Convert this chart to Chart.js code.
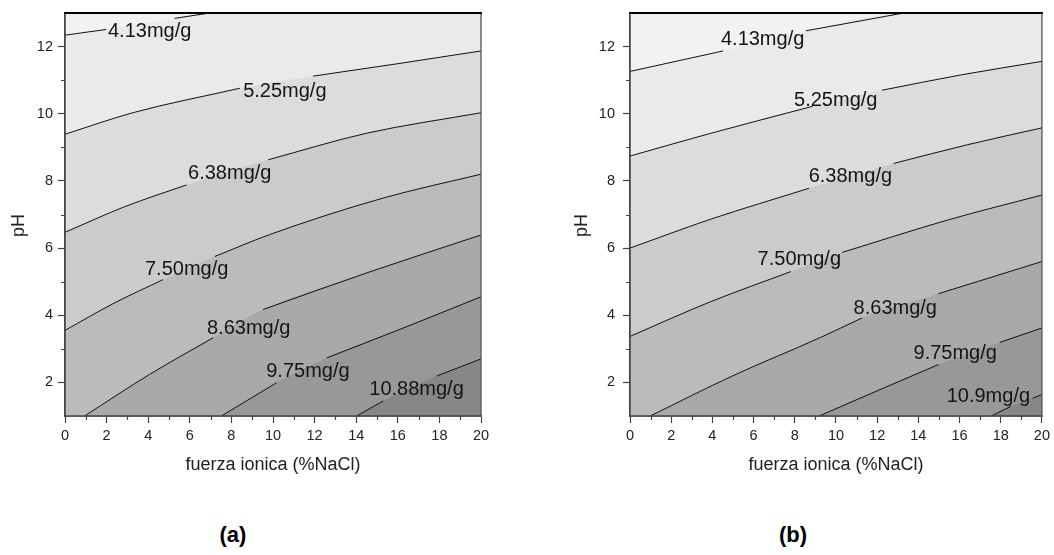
<!DOCTYPE html>
<html>
<head>
<meta charset="utf-8">
<title>Capacidad de adsorción vs pH y fuerza iónica</title>
<script src="https://cdn.jsdelivr.net/npm/chart.js@4.4.1/dist/chart.umd.min.js"></script>
<style>
  html, body { margin: 0; padding: 0; background: #fff; width: 1054px; height: 555px; overflow: hidden;
               font-family: "Liberation Sans", Arial, Helvetica, sans-serif; }
  .panel { position: absolute; top: 0; height: 490px; }
  #wrapA { left: 0; width: 510px; }
  #wrapB { left: 560px; width: 494px; }
  .cap { position: absolute; top: 522px; width: 60px; text-align: center; font-weight: bold; font-size: 22px; color: #000; }
</style>
</head>
<body>
<div class="panel" id="wrapA"><canvas id="chartA"></canvas></div>
<div class="panel" id="wrapB"><canvas id="chartB"></canvas></div>
<div class="cap" style="left:203px">(a)</div>
<div class="cap" style="left:763px">(b)</div>

<script>
// Axis ranges and ticks (fuerza ionica in %NaCl, pH)
const X_MIN = 0, X_MAX = 20, Y_MIN = 1, Y_MAX = 13;
const xTicks = [0, 2, 4, 6, 8, 10, 12, 14, 16, 18, 20];
const xMinorTicks = [1, 3, 5, 7, 9, 11, 13, 15, 17, 19];
const yTicks = [2, 4, 6, 8, 10, 12];
const yMinorTicks = [3, 5, 7, 9, 11];

// Contour levels (mg/g)
const levelLabelsA = ['4.13mg/g', '5.25mg/g', '6.38mg/g', '7.50mg/g', '8.63mg/g', '9.75mg/g', '10.88mg/g'];
const levelLabelsB = ['4.13mg/g', '5.25mg/g', '6.38mg/g', '7.50mg/g', '8.63mg/g', '9.75mg/g', '10.9mg/g'];

// Panel (a): iso-lines as [fuerza ionica, pH]; null = gap where the level label sits
const a413 = [[0, 12.34], [1.98, 12.51], null, [5.27, 12.84], [6.96, 13.0]];
const a525 = [[0, 9.39], [3.26, 10.03], [8.41, 10.76], null, [11.93, 11.12], [16.1, 11.5], [20, 11.87]];
const a638 = [[0, 6.47], [2.9, 7.24], [5.84, 7.88], null, [9.77, 8.63], [14.5, 9.42], [20, 10.03]];
const a750 = [[0, 3.55], [2.36, 4.36], [4.71, 5.06], null, [7.2, 5.75], [9.83, 6.40], [15.3, 7.49], [20, 8.20]];
const a863 = [[0.94, 1], [4.07, 2.24], [7.12, 3.33], null, [9.52, 4.17], [14.5, 5.26], [20, 6.39]];
const a975 = [[7.52, 1], [10.17, 1.99], null, [12.58, 2.73], [16.1, 3.58], [20, 4.55]];
const a1088 = [[14.02, 1], [15.3, 1.45], null, [17.87, 2.19], [20, 2.70]];
const labelPosA = [[4.07, 12.46], [10.57, 10.66], [7.92, 8.22], [5.85, 5.36], [8.83, 3.62], [11.68, 2.34], [16.9, 1.79]];

// Panel (b)
const b413 = [[0, 11.26], [4.52, 11.87], null, [8.54, 12.47], [13.3, 13.0]];
const b525 = [[0, 8.74], [3.87, 9.41], [8.86, 10.22], null, [12.23, 10.70], [16.1, 11.16], [20, 11.56]];
const b638 = [[0, 6.0], [3.87, 6.85], [8.69, 7.78], null, [12.8, 8.52], [16.4, 9.08], [20, 9.58]];
const b750 = [[0, 3.37], [3.9, 4.4], [7.81, 5.30], null, [10.3, 5.87], [15.45, 6.84], [20, 7.58]];
const b863 = [[0.98, 1], [5.0, 2.2], [9.18, 3.32], [11.27, 3.92], null, [14.97, 4.64], [20, 5.60]];
const b975 = [[9.18, 1], [12.0, 1.75], [14.97, 2.53], null, [17.95, 3.19], [20, 3.62]];
const b109 = [[17.54, 1], [18.5, 1.29], null, [19.55, 1.53], [20, 1.64]];
const labelPosB = [[6.44, 12.21], [9.99, 10.40], [10.70, 8.14], [8.22, 5.65], [12.88, 4.21], [15.79, 2.86], [17.40, 1.59]];

// Grey ramp: lightest region above the first level, darker toward high capacity
const topShade = '#f2f2f2';
const bandShades = ['#eaeaea', '#dcdcdc', '#cbcbcb', '#bbbbbb', '#a9a9a9', '#989898', '#878787'];

const FONT = '"Liberation Sans", Arial, Helvetica, sans-serif';
Chart.defaults.font.family = FONT;
Chart.defaults.color = '#222';

function linePoints(path) {
  const pts = [];
  let lastX = X_MIN;
  path.forEach(p => {
    if (p === null) pts.push({ x: lastX, y: null });
    else { pts.push({ x: p[0], y: p[1] }); lastX = p[0]; }
  });
  return pts;
}

// Region at or above a level: the iso-line closed to the bottom of the plot
function regionPoints(path) {
  const pts = path.filter(p => p !== null).map(p => ({ x: p[0], y: p[1] }));
  const last = pts[pts.length - 1];
  if (last.x < X_MAX && last.y >= Y_MAX) pts.push({ x: X_MAX, y: Y_MAX });
  return pts;
}

const decor = {
  id: 'contourDecor',
  beforeDatasetsDraw(chart) {
    const { ctx, chartArea: ca } = chart;
    ctx.save();
    ctx.fillStyle = topShade;
    ctx.fillRect(ca.left, ca.top, ca.right - ca.left, ca.bottom - ca.top);
    ctx.restore();
  },
  afterDatasetsDraw(chart, args, opts) {
    const { ctx, scales: { x, y } } = chart;
    ctx.save();
    ctx.font = '20px ' + FONT;
    ctx.fillStyle = '#151515';
    ctx.textAlign = 'center';
    ctx.textBaseline = 'middle';
    opts.labels.forEach((t, i) => {
      const [lx, ly] = opts.positions[i];
      ctx.fillText(t, x.getPixelForValue(lx), y.getPixelForValue(ly));
    });
    ctx.restore();
  },
  afterDraw(chart, args, opts) {
    const { ctx, chartArea: ca, scales: { x, y } } = chart;
    ctx.save();
    // frame
    ctx.lineCap = 'square';
    ctx.strokeStyle = '#444';
    ctx.lineWidth = 1.5;
    ctx.beginPath();
    ctx.moveTo(ca.left, ca.top); ctx.lineTo(ca.left, ca.bottom); ctx.lineTo(ca.right, ca.bottom);
    ctx.stroke();
    ctx.strokeStyle = '#555';
    ctx.lineWidth = 1.3;
    ctx.beginPath();
    ctx.moveTo(ca.right, ca.top); ctx.lineTo(ca.right, ca.bottom);
    ctx.stroke();
    ctx.strokeStyle = '#000';
    ctx.lineWidth = 2;
    ctx.beginPath();
    ctx.moveTo(ca.left, ca.top); ctx.lineTo(ca.right, ca.top);
    ctx.stroke();
    // minor ticks
    ctx.strokeStyle = '#444';
    ctx.lineWidth = 1.2;
    ctx.lineCap = 'butt';
    ctx.beginPath();
    xMinorTicks.forEach(v => {
      const px = Math.round(x.getPixelForValue(v)) + 0.5;
      ctx.moveTo(px, ca.bottom); ctx.lineTo(px, ca.bottom + 4);
    });
    yMinorTicks.forEach(v => {
      const py = Math.round(y.getPixelForValue(v)) + 0.5;
      ctx.moveTo(ca.left - 4, py); ctx.lineTo(ca.left, py);
    });
    ctx.stroke();
    // pH axis title
    ctx.font = '18px ' + FONT;
    ctx.fillStyle = '#222';
    ctx.textAlign = 'center';
    ctx.textBaseline = 'middle';
    ctx.translate(opts.titleX, (ca.top + ca.bottom) / 2 + 11);
    ctx.rotate(-Math.PI / 2);
    ctx.fillText('pH', 0, 0);
    ctx.restore();
  }
};

function buildChart(canvasId, contours, labels, positions, layout) {
  const lines = contours.map(path => ({
    data: linePoints(path),
    borderColor: '#111',
    borderWidth: 1,
    pointRadius: 0,
    fill: false,
    spanGaps: false,
    cubicInterpolationMode: 'monotone',
    order: 0
  }));
  const regions = contours.map((path, i) => ({
    data: regionPoints(path),
    borderWidth: 0,
    borderColor: 'rgba(0,0,0,0)',
    backgroundColor: bandShades[i],
    pointRadius: 0,
    fill: 'start',
    cubicInterpolationMode: 'monotone',
    order: 10 + (contours.length - i)
  }));

  const gridOpts = { drawOnChartArea: false, drawTicks: true, tickLength: 7, tickColor: '#444', tickWidth: 1.2 };
  const borderOpts = { display: true, color: '#444', width: 1.5 };

  return new Chart(document.getElementById(canvasId), {
    type: 'line',
    data: { datasets: lines.concat(regions) },
    options: {
      responsive: true,
      maintainAspectRatio: false,
      animation: false,
      events: [],
      layout: { padding: layout.padding },
      plugins: {
        legend: { display: false },
        tooltip: { enabled: false },
        contourDecor: { labels: labels, positions: positions, titleX: layout.titleX }
      },
      scales: {
        x: {
          type: 'linear', min: X_MIN, max: X_MAX,
          afterBuildTicks: s => { s.ticks = xTicks.map(v => ({ value: v })); },
          afterFit: s => { s.height = 60; },
          grid: gridOpts,
          border: borderOpts,
          ticks: { font: { size: 14.5 }, color: '#222', padding: 4, maxRotation: 0, autoSkip: false },
          title: { display: true, text: 'fuerza ionica (%NaCl)', font: { size: 18 }, color: '#222', padding: { top: 4, bottom: 0 } }
        },
        y: {
          type: 'linear', min: Y_MIN, max: Y_MAX,
          afterBuildTicks: s => { s.ticks = yTicks.map(v => ({ value: v })); },
          afterFit: s => { s.width = layout.yAxisWidth; s.paddingTop = 0; s.paddingBottom = 0; },
          grid: gridOpts,
          border: borderOpts,
          ticks: { font: { size: 14.5 }, color: '#222', padding: layout.yTickPad, autoSkip: false }
        }
      }
    },
    plugins: [decor]
  });
}

buildChart('chartA', [a413, a525, a638, a750, a863, a975, a1088], levelLabelsA, labelPosA,
  { padding: { left: 0, right: 29, top: 13, bottom: 14 }, yAxisWidth: 65, yTickPad: 5, titleX: 19 });
buildChart('chartB', [b413, b525, b638, b750, b863, b975, b109], levelLabelsB, labelPosB,
  { padding: { left: 0, right: 10, top: 13, bottom: 14 }, yAxisWidth: 70, yTickPad: 8, titleX: 22 });
</script>
</body>
</html>
